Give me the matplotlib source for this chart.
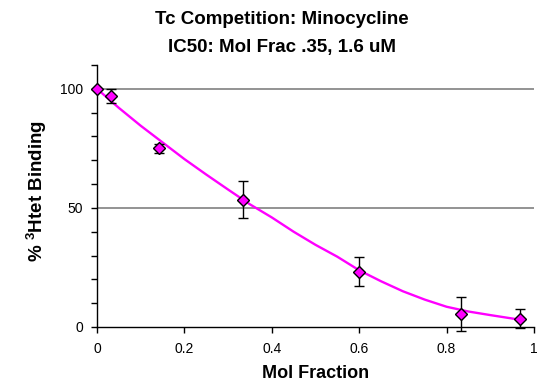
import matplotlib
matplotlib.use("Agg")
import matplotlib.pyplot as plt
from matplotlib.ticker import MultipleLocator

plt.rcParams['font.family'] = ['Liberation Sans', 'DejaVu Sans']

# Data points
mol_frac = [0.0, 0.033, 0.143, 0.333, 0.6, 0.833, 0.967]
binding = [100, 97, 75, 53.5, 23.3, 5.4, 3.5]
err = [0, 3, 2, 7.8, 6, 7, 4]

# Fitted curve
curve_x = [0.0, 0.05, 0.1, 0.15, 0.2, 0.25, 0.3, 0.35, 0.4, 0.45, 0.5, 0.55, 0.6, 0.65, 0.7, 0.75, 0.8, 0.85, 0.9, 0.97]
curve_y = [100, 92, 84.5, 77.5, 70.5, 64, 57.7, 51.5, 46, 40, 34.5, 29.5, 23.8, 19.2, 15, 11.5, 8.5, 6.5, 5, 3]

xticks = [0, 0.2, 0.4, 0.6, 0.8, 1]
xticklabels = ["0", "0.2", "0.4", "0.6", "0.8", "1"]
yticks = [0, 50, 100]

fig = plt.figure(figsize=(5.46, 3.85), dpi=100)
ax = fig.add_axes([97/546, 1-327/385, (534-97)/546, (327-65)/385])

ax.set_xlim(0, 1)
ax.set_ylim(0, 110)

for yv in [50, 100]:
    ax.axhline(yv, color='#808080', lw=1.2, zorder=0)

ax.plot(curve_x, curve_y, color='#ff00ff', lw=1.7, zorder=2, clip_on=False)
ax.errorbar(mol_frac, binding, yerr=err, fmt='none', ecolor='black', elinewidth=1,
            capsize=3.3, capthick=1, zorder=3, clip_on=False)
ax.plot(mol_frac, binding, linestyle='none', marker='D', markersize=6.5,
        markerfacecolor='#ff00ff', markeredgecolor='black', markeredgewidth=1,
        zorder=4, clip_on=False)

ax.set_xticks(xticks)
ax.set_xticklabels(xticklabels)
ax.set_yticks(yticks)
ax.yaxis.set_minor_locator(MultipleLocator(10))
ax.tick_params(axis='both', direction='out', length=4, width=1, labelsize=10, colors='black')
ax.tick_params(axis='x', pad=7)
ax.tick_params(axis='y', pad=6)
ax.tick_params(axis='y', which='minor', direction='out', length=4, width=1)

for s in ['top', 'right']:
    ax.spines[s].set_visible(False)
for s in ['left', 'bottom']:
    ax.spines[s].set_linewidth(1)
    ax.spines[s].set_color('black')

fig.text(315.5/546, 1-373/385, 'Mol Fraction', ha='center', va='center',
         fontsize=13, fontweight='bold')
fig.text(37/546, 1-191/385, '% $^{\\mathregular{3}}$Htet Binding', ha='center', va='center',
         rotation=90, fontsize=13.5, fontweight='bold')

fig.text(282/546, 1-19.5/385, 'Tc Competition: Minocycline', ha='center', va='center',
         fontsize=13.5, fontweight='bold')
fig.text(282/546, 1-47.5/385, 'IC50: Mol Frac .35, 1.6 uM', ha='center', va='center',
         fontsize=13.5, fontweight='bold')

fig.savefig('out.png', dpi=100)
